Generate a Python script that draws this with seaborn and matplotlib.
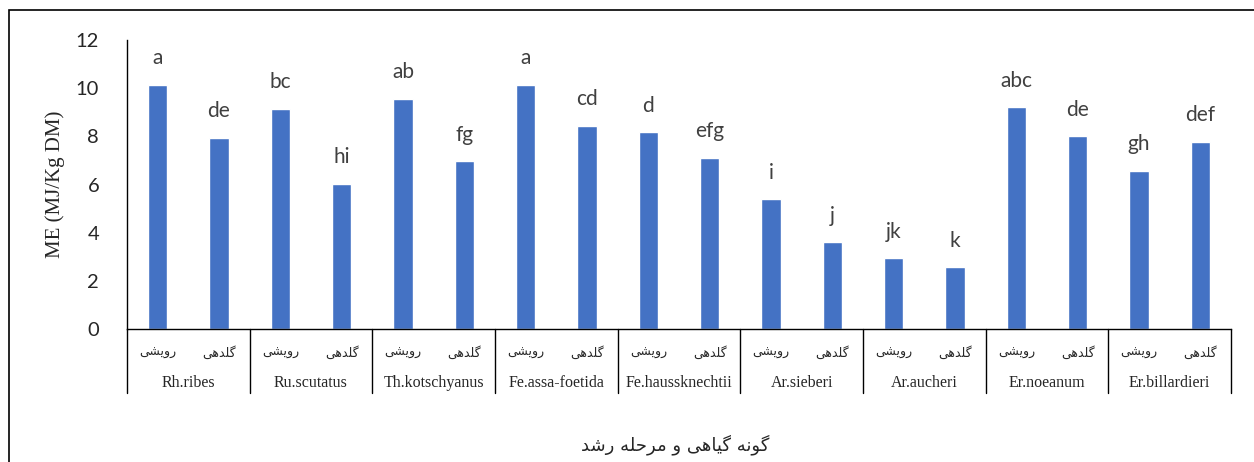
import pandas as pd
import matplotlib.pyplot as plt
import seaborn as sns
from matplotlib.patches import Rectangle

species = ['Rh.ribes', 'Ru.scutatus', 'Th.kotschyanus', 'Fe.assa-foetida', 'Fe.haussknechtii',
           'Ar.sieberi', 'Ar.aucheri', 'Er.noeanum', 'Er.billardieri']
stages = ['رویشی', 'گلدهی']
me_veg = [10.15, 9.13, 9.57, 10.15, 8.17, 5.38, 2.93, 9.20, 6.57]
me_flow = [7.95, 6.03, 6.96, 8.44, 7.10, 3.60, 2.56, 8.00, 7.76]
letters_veg = ['a', 'bc', 'ab', 'a', 'd', 'i', 'jk', 'abc', 'gh']
letters_flow = ['de', 'hi', 'fg', 'cd', 'efg', 'j', 'k', 'de', 'def']
x_title = 'گونه گیاهی و مرحله رشد'
y_title = 'ME (MJ/Kg DM)'

# matplotlib does no arabic shaping, so pick presentation forms by hand
FORMS = {
    'ا': ('\uFE8D', '\uFE8E', None, None),
    'د': ('\uFEA9', '\uFEAA', None, None),
    'ر': ('\uFEAD', '\uFEAE', None, None),
    'و': ('\uFEED', '\uFEEE', None, None),
    'ش': ('\uFEB5', '\uFEB6', '\uFEB7', '\uFEB8'),
    'ل': ('\uFEDD', '\uFEDE', '\uFEDF', '\uFEE0'),
    'ه': ('\uFEE9', '\uFEEA', '\uFEEB', '\uFEEC'),
    'ن': ('\uFEE5', '\uFEE6', '\uFEE7', '\uFEE8'),
    'م': ('\uFEE1', '\uFEE2', '\uFEE3', '\uFEE4'),
    'ح': ('\uFEA1', '\uFEA2', '\uFEA3', '\uFEA4'),
    'ی': ('\uFBFC', '\uFBFD', '\uFBFE', '\uFBFF'),
    'گ': ('\uFB92', '\uFB93', '\uFB94', '\uFB95'),
}


def shape(text):
    out = []
    for i, ch in enumerate(text):
        if ch not in FORMS:
            out.append(ch)
            continue
        prev = text[i - 1] if i > 0 else ''
        nxt = text[i + 1] if i + 1 < len(text) else ''
        join_prev = prev in FORMS and FORMS[prev][2] is not None
        join_next = FORMS[ch][2] is not None and nxt in FORMS
        iso, fin, ini, med = FORMS[ch]
        if join_prev and join_next:
            out.append(med)
        elif join_prev:
            out.append(fin)
        elif join_next:
            out.append(ini)
        else:
            out.append(iso)
    return ''.join(reversed(out))


rows = []
for sp, v, f, lv, lf in zip(species, me_veg, me_flow, letters_veg, letters_flow):
    rows.append({'slot': sp + '|' + stages[0], 'ME': v, 'letter': lv})
    rows.append({'slot': sp + '|' + stages[1], 'ME': f, 'letter': lf})
df = pd.DataFrame(rows)

sns.set_style('white')
fig = plt.figure(figsize=(12.54, 4.62), dpi=100)
ax = fig.add_axes([127 / 1254, 1 - 329 / 462, 1104 / 1254, 289 / 462])

sns.barplot(data=df, x='slot', y='ME', order=list(df['slot']), color='#4472C4',
            saturation=1, width=0.31, ax=ax)
ax.bar_label(ax.containers[0], labels=list(df['letter']), padding=12,
             fontsize=15, color='#404040', family='Lato')

ax.set_xlim(-0.5, len(df) - 0.5)
ax.set_ylim(0, 12)
ax.set_yticks(range(0, 13, 2))
ax.tick_params(axis='y', length=0, pad=20, labelsize=14.5)
for t in ax.get_yticklabels():
    t.set_family('Lato')
ax.set_xticks([])
ax.set_xlabel('')
ax.set_ylabel(y_title, family='Liberation Serif', fontsize=15)
ax.yaxis.label.set_va('center')
ax.yaxis.set_label_coords(-0.065, 0.5)

sns.despine(ax=ax)
for s in ['left', 'bottom']:
    ax.spines[s].set_color('black')
    ax.spines[s].set_linewidth(1)

# two-level category axis
tr = ax.get_xaxis_transform()
for i, sp in enumerate(species):
    ax.text(2 * i + 0.5, -0.186, sp, transform=tr, ha='center', va='center',
            family='Liberation Serif', fontsize=11.5)
    for j, st in enumerate(stages):
        ax.text(2 * i + j, -0.082, shape(st), transform=tr, ha='center', va='center',
                family=['DejaVu Sans'], fontsize=9)
for k in range(len(species) + 1):
    ax.plot([2 * k - 0.5, 2 * k - 0.5], [0, -0.221], transform=tr, color='black',
            lw=1, clip_on=False)

fig.text(675 / 1254, 1 - 445 / 462, shape(x_title), ha='center', va='center',
         family=['DejaVu Sans'], fontsize=13)

fig.patches.append(Rectangle((9 / 1254, -0.5), 2, 0.5 + (1 - 10 / 462), transform=fig.transFigure,
                             fill=False, ec='black', lw=1.2))

fig.savefig('out.png', dpi=100)
